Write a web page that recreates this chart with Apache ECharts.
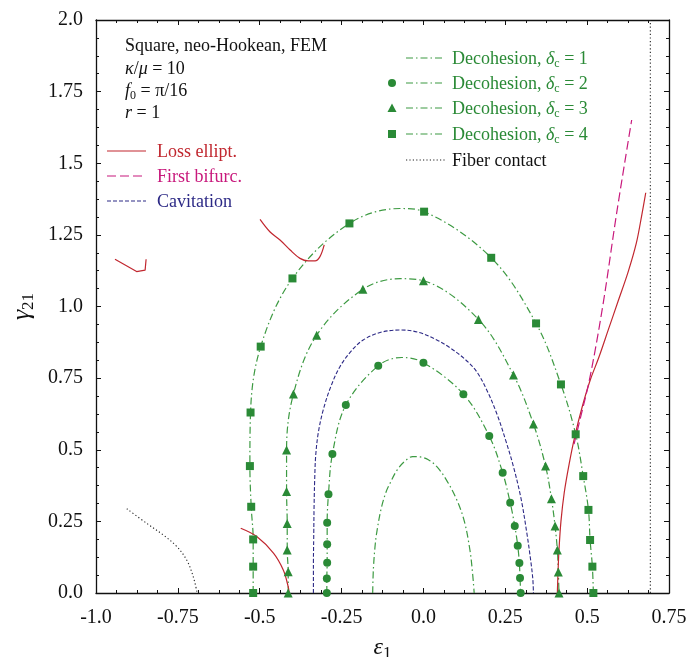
<!DOCTYPE html>
<html>
<head>
<meta charset="utf-8">
<script src="https://cdn.jsdelivr.net/npm/echarts@6/dist/echarts.min.js"></script>
<style>
  html, body { margin: 0; padding: 0; background: #fff; }
  #chart { width: 689px; height: 657px; }
</style>
</head>
<body>
<div id="chart"></div>
<script>
// Axis ticks
const xTickValues = [-1, -0.75, -0.5, -0.25, 0, 0.25, 0.5, 0.75];
const xTickLabels = ['-1.0', '-0.75', '-0.5', '-0.25', '0.0', '0.25', '0.5', '0.75'];
const yTickValues = [0, 0.25, 0.5, 0.75, 1, 1.25, 1.5, 1.75, 2];
const yTickLabels = ['0.0', '0.25', '0.5', '0.75', '1.0', '1.25', '1.5', '1.75', '2.0'];

// Loss of ellipticity (several separate branches)
const lossEllipticityLeft = [[-0.942, 1.165], [-0.876, 1.122], [-0.850, 1.127], [-0.847, 1.165]];
const lossEllipticityUpper = [[-0.499, 1.304], [-0.469, 1.261], [-0.438, 1.232], [-0.407, 1.197],
  [-0.377, 1.168], [-0.352, 1.159], [-0.331, 1.159], [-0.316, 1.174], [-0.303, 1.215]];
const lossEllipticityLower = [[-0.558, 0.226], [-0.509, 0.197], [-0.458, 0.139], [-0.428, 0.080],
  [-0.413, 0.022], [-0.410, 0]];
const lossEllipticityRight = [[0.409, 0], [0.411, 0.07], [0.414, 0.15], [0.420, 0.25], [0.430, 0.35],
  [0.445, 0.45], [0.463, 0.55], [0.485, 0.65], [0.510, 0.745], [0.535, 0.82], [0.565, 0.92],
  [0.595, 1.02], [0.625, 1.12], [0.650, 1.22], [0.667, 1.32], [0.679, 1.397]];

// First bifurcation
const firstBifurcation = [[0.460, 0.52], [0.478, 0.604], [0.509, 0.755], [0.549, 1.011],
  [0.590, 1.325], [0.636, 1.651]];

// Cavitation
const cavitation = [[-0.336, 0], [-0.336, 0.1], [-0.335, 0.2], [-0.334, 0.3], [-0.332, 0.4],
  [-0.329, 0.48], [-0.321, 0.56], [-0.306, 0.639], [-0.283, 0.72], [-0.255, 0.79], [-0.22, 0.845],
  [-0.184, 0.883], [-0.13, 0.91], [-0.071, 0.918], [-0.015, 0.91], [0.041, 0.883], [0.081, 0.856],
  [0.125, 0.818], [0.163, 0.772], [0.197, 0.70], [0.226, 0.62], [0.252, 0.53], [0.275, 0.441],
  [0.298, 0.33], [0.316, 0.208], [0.328, 0.11], [0.334, 0.05], [0.336, 0]];

// Decohesion, delta_c = 1 (curve only)
const decohesion1 = [[-0.155, 0], [-0.153, 0.08], [-0.148, 0.16], [-0.143, 0.208], [-0.13, 0.29],
  [-0.115, 0.35], [-0.102, 0.383], [-0.08, 0.43], [-0.055, 0.462], [-0.033, 0.476], [-0.01, 0.475],
  [0.015, 0.465], [0.041, 0.441], [0.07, 0.395], [0.102, 0.325], [0.125, 0.25], [0.142, 0.15],
  [0.15, 0.07], [0.155, 0]];

// Decohesion, delta_c = 2, 3, 4: computed points and curve apex
const decohesion2 = [[-0.295, 0], [-0.295, 0.051], [-0.294, 0.106], [-0.294, 0.17], [-0.294, 0.245],
  [-0.29, 0.345], [-0.278, 0.485], [-0.237, 0.656], [-0.138, 0.793], [0.0, 0.804], [0.122, 0.694],
  [0.201, 0.548], [0.242, 0.42], [0.265, 0.315], [0.279, 0.234], [0.288, 0.165], [0.293, 0.105],
  [0.295, 0.052], [0.297, 0]];
const decohesion2Apex = [-0.066, 0.822];

const decohesion3 = [[-0.413, 0], [-0.413, 0.074], [-0.416, 0.15], [-0.416, 0.243], [-0.418, 0.354],
  [-0.418, 0.499], [-0.397, 0.695], [-0.326, 0.9], [-0.185, 1.06], [0.0, 1.09], [0.168, 0.955],
  [0.275, 0.761], [0.336, 0.59], [0.373, 0.443], [0.391, 0.329], [0.402, 0.234], [0.409, 0.15],
  [0.412, 0.073], [0.414, 0]];
const decohesion3Apex = [-0.071, 1.097];

const decohesion4 = [[-0.52, 0], [-0.52, 0.092], [-0.52, 0.187], [-0.526, 0.301], [-0.53, 0.443],
  [-0.528, 0.63], [-0.497, 0.86], [-0.4, 1.098], [-0.226, 1.29], [0.002, 1.331], [0.207, 1.17],
  [0.344, 0.941], [0.42, 0.728], [0.465, 0.554], [0.488, 0.408], [0.504, 0.29], [0.509, 0.185],
  [0.516, 0.092], [0.519, 0]];
const decohesion4Apex = [-0.071, 1.342];

// Fiber contact
const fiberContactCurve = [[-0.906, 0.294], [-0.845, 0.243], [-0.794, 0.202], [-0.753, 0.162],
  [-0.723, 0.115], [-0.703, 0.057], [-0.691, 0]];
const fiberContactStrain = [[0.693, 0], [0.693, 2]];

// ---------------------------------------------------------------
const SERIF = '"Liberation Serif", "DejaVu Serif", serif';
const GREEN = '#2a8a36';
const GREEN_LINE = '#3d9a42';
const RED = '#c1272f';
const MAGENTA = '#c8197c';
const NAVY = '#2d2a86';
const DASHDOT = [7, 3, 1.5, 3];

function withApex(points, apex) {
  const i = points.findIndex(p => p[0] > apex[0]);
  return points.slice(0, i).concat([apex], points.slice(i));
}

function lineSeries(data, color, type, width, smooth) {
  return {
    type: 'line', data: data, showSymbol: false, symbol: 'none', smooth: smooth ? 0.35 : false,
    lineStyle: { color: color, width: width, type: type }, silent: true, animation: false,
    z: 3
  };
}

function markerSeries(data, symbol, size) {
  return {
    type: 'scatter', data: data, symbol: symbol, symbolSize: size,
    itemStyle: { color: GREEN, opacity: 1 }, silent: true, animation: false, z: 4
  };
}

function tickFmt(values, labels) {
  return function (v) {
    const i = values.findIndex(t => Math.abs(t - v) < 1e-9);
    return i >= 0 ? labels[i] : '';
  };
}

const chart = echarts.init(document.getElementById('chart'), null, { renderer: 'canvas' });

const axisLineStyle = { lineStyle: { color: '#111', width: 1.3 } };
const tick = { show: true, inside: true, length: 5, lineStyle: { color: '#111', width: 1 } };
const minor = { show: true, splitNumber: 4, length: 3, lineStyle: { color: '#111', width: 1 } };

function xAx(pos, labels) {
  return {
    type: 'value', position: pos, min: -1, max: 0.75, interval: 0.25,
    axisLine: Object.assign({ show: true, onZero: false }, axisLineStyle),
    axisTick: tick, minorTick: minor, splitLine: { show: false },
    axisLabel: labels ? {
      show: true, formatter: tickFmt(xTickValues, xTickLabels), fontFamily: SERIF,
      fontSize: 20, color: '#111', margin: 15, showMinLabel: true, showMaxLabel: true
    } : { show: false },
    name: labels ? '{e|ε}{s|1}' : '', nameLocation: 'middle', nameGap: 40,
    nameTextStyle: {
      rich: {
        e: { fontFamily: SERIF, fontSize: 24, fontStyle: 'italic', color: '#111' },
        s: { fontFamily: SERIF, fontSize: 17, color: '#111', padding: [12, 0, 0, 0] }
      }
    }
  };
}

function yAx(pos, labels) {
  return {
    type: 'value', position: pos, min: 0, max: 2, interval: 0.25,
    axisLine: Object.assign({ show: true, onZero: false }, axisLineStyle),
    axisTick: tick, minorTick: minor, splitLine: { show: false },
    axisLabel: labels ? {
      show: true, formatter: tickFmt(yTickValues, yTickLabels), fontFamily: SERIF,
      fontSize: 20, color: '#111', margin: 13, showMinLabel: true, showMaxLabel: true
    } : { show: false },
    name: labels ? '{g|γ}{s|21}' : '', nameLocation: 'middle', nameGap: 58,
    nameTextStyle: {
      rich: {
        g: { fontFamily: SERIF, fontSize: 26, fontStyle: 'italic', color: '#111' },
        s: { fontFamily: SERIF, fontSize: 17, color: '#111', padding: [12, 0, 0, 0] }
      }
    }
  };
}

// Legend and annotation block drawn as graphic elements
const txt = { fontFamily: SERIF, fontSize: 18 };
function label(x, y, text, color, rich) {
  return {
    type: 'text', left: x, top: y - 8, silent: true,
    style: Object.assign({ text: text, fill: color, rich: rich || {} }, txt, { font: '18px ' + SERIF })
  };
}
function sample(x1, x2, y, color, dash, width) {
  return {
    type: 'line', silent: true,
    shape: { x1: x1, y1: y, x2: x2, y2: y },
    style: { stroke: color, lineWidth: width || 1.2, lineDash: dash || null }
  };
}
const italicRich = {
  i: { fontFamily: SERIF, fontSize: 18, fontStyle: 'italic', fill: '#111', color: '#111' },
  s: { fontFamily: SERIF, fontSize: 12, fill: '#111', color: '#111', padding: [9, 0, 0, 0] },
  n: { fontFamily: SERIF, fontSize: 18, color: '#111' }
};
const greenRich = {
  n: { fontFamily: SERIF, fontSize: 18, color: GREEN },
  i: { fontFamily: SERIF, fontSize: 18, fontStyle: 'italic', color: GREEN },
  s: { fontFamily: SERIF, fontSize: 12, color: GREEN, padding: [9, 0, 0, 0] }
};
function decoLabel(n) { return '{n|Decohesion, }{i|δ}{s|c}{n| = ' + n + '}'; }

const graphics = [
  label(125, 45, 'Square, neo-Hookean, FEM', '#111'),
  label(125, 68, '{i|κ}{n|/}{i|μ}{n| = 10}', '#111', italicRich),
  label(125, 90, '{i|f}{s|0}{n| = π/16}', '#111', italicRich),
  label(125, 112, '{i|r}{n| = 1}', '#111', italicRich),

  sample(107, 146, 151, RED, null, 1.2),
  label(157, 151, 'Loss ellipt.', RED),
  sample(107, 146, 176, MAGENTA, [9, 4], 1.2),
  label(157, 176, 'First bifurc.', MAGENTA),
  sample(107, 146, 201, NAVY, [4, 2], 1.2),
  label(157, 201, 'Cavitation', NAVY),

  sample(406, 445, 58, GREEN_LINE, DASHDOT, 1.2),
  label(452, 58, decoLabel(1), GREEN, greenRich),
  { type: 'circle', silent: true, shape: { cx: 392, cy: 83, r: 4 }, style: { fill: GREEN } },
  sample(406, 445, 83, GREEN_LINE, DASHDOT, 1.2),
  label(452, 83, decoLabel(2), GREEN, greenRich),
  { type: 'polygon', silent: true, shape: { points: [[392, 103.5], [387.5, 112], [396.5, 112]] }, style: { fill: GREEN } },
  sample(406, 445, 108, GREEN_LINE, DASHDOT, 1.2),
  label(452, 108, decoLabel(3), GREEN, greenRich),
  { type: 'rect', silent: true, shape: { x: 388, y: 130, width: 8, height: 8 }, style: { fill: GREEN } },
  sample(406, 445, 134, GREEN_LINE, DASHDOT, 1.2),
  label(452, 134, decoLabel(4), GREEN, greenRich),
  sample(406, 445, 160, '#222', [1.2, 2.2], 1.2),
  label(452, 160, 'Fiber contact', '#111')
];

const option = {
  animation: false,
  backgroundColor: '#fff',
  grid: { left: 96, right: 20, top: 20, bottom: 64, containLabel: false, outerBoundsMode: 'none' },
  xAxis: [xAx('bottom', true), xAx('top', false)],
  yAxis: [yAx('left', true), yAx('right', false)],
  graphic: graphics,
  series: [
    lineSeries(fiberContactCurve, '#222', [1.2, 2.4], 1.1, true),
    lineSeries(fiberContactStrain, '#222', [1.2, 2.4], 1.1, false),

    lineSeries(decohesion1, GREEN_LINE, DASHDOT, 1.2, true),
    lineSeries(withApex(decohesion2, decohesion2Apex), GREEN_LINE, DASHDOT, 1.2, true),
    lineSeries(withApex(decohesion3, decohesion3Apex), GREEN_LINE, DASHDOT, 1.2, true),
    lineSeries(withApex(decohesion4, decohesion4Apex), GREEN_LINE, DASHDOT, 1.2, true),

    lineSeries(cavitation, NAVY, [4, 2], 1.1, true),

    lineSeries(lossEllipticityLeft, RED, 'solid', 1.2, false),
    lineSeries(lossEllipticityUpper, RED, 'solid', 1.2, true),
    lineSeries(lossEllipticityLower, RED, 'solid', 1.2, true),
    lineSeries(lossEllipticityRight, RED, 'solid', 1.2, true),
    lineSeries(firstBifurcation, MAGENTA, [9, 4], 1.2, true),

    markerSeries(decohesion2, 'circle', 8),
    markerSeries(decohesion3, 'triangle', 9),
    markerSeries(decohesion4, 'rect', 8)
  ]
};

chart.setOption(option);
</script>
</body>
</html>
